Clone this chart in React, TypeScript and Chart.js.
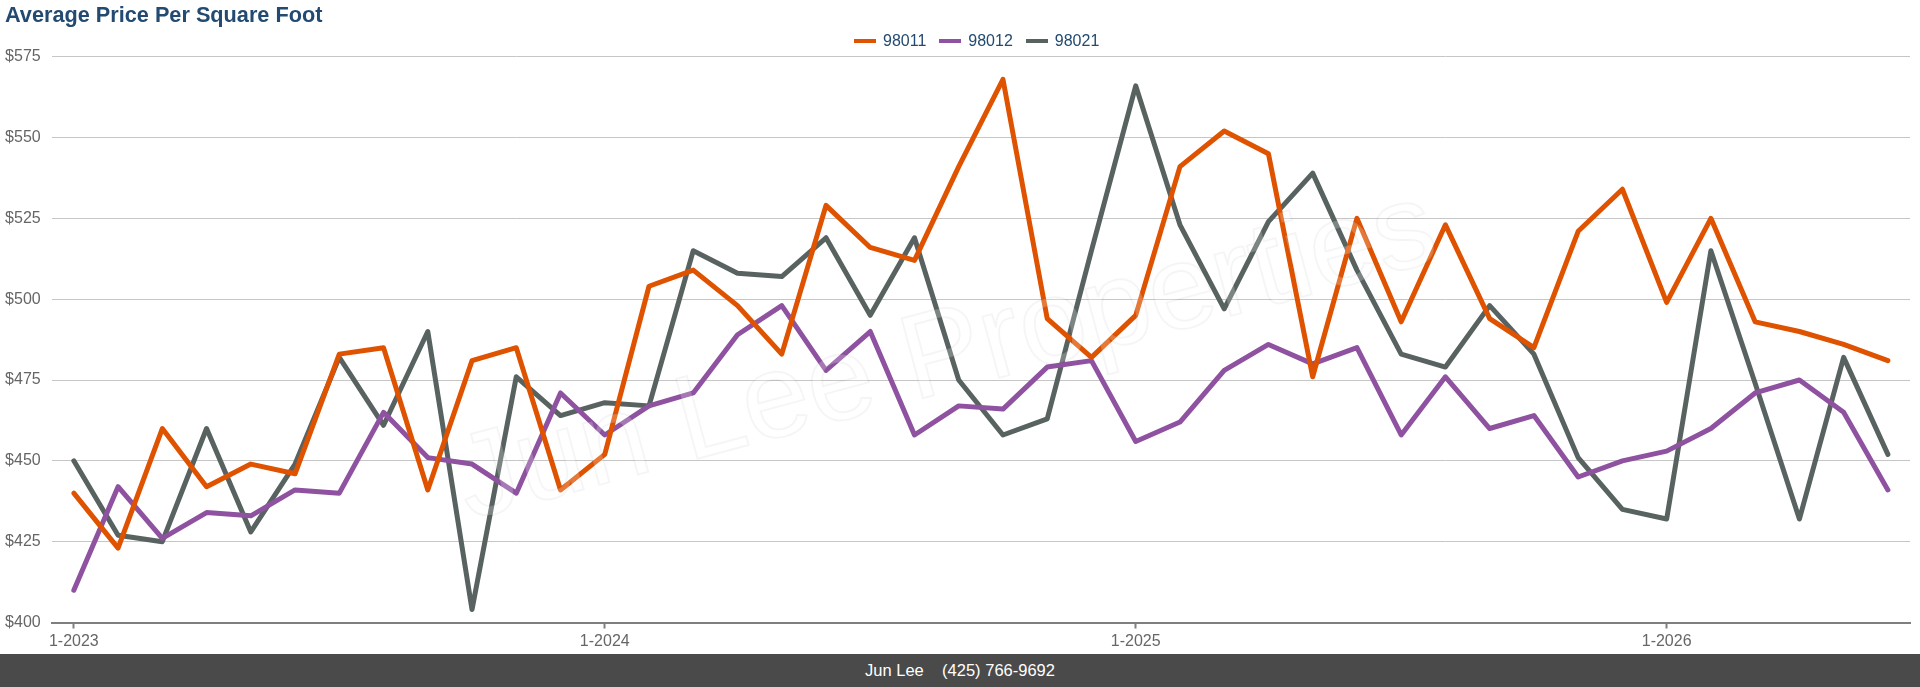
import React, { useEffect, useRef } from "react";
import { Chart, registerables } from "chart.js";

Chart.register(...registerables);

// ---------- data ----------
const months: string[] = [
  "1-2023", "2-2023", "3-2023", "4-2023", "5-2023", "6-2023", "7-2023", "8-2023", "9-2023", "10-2023", "11-2023", "12-2023",
  "1-2024", "2-2024", "3-2024", "4-2024", "5-2024", "6-2024", "7-2024", "8-2024", "9-2024", "10-2024", "11-2024", "12-2024",
  "1-2025", "2-2025", "3-2025", "4-2025", "5-2025", "6-2025", "7-2025", "8-2025", "9-2025", "10-2025", "11-2025", "12-2025",
  "1-2026", "2-2026", "3-2026", "4-2026", "5-2026", "6-2026",
];

const seriesNames: string[] = ["98011", "98012", "98021"];

const values98011: number[] = [
  440, 423, 460, 442, 449, 446, 483, 485, 441, 481, 485, 441,
  452, 504, 509, 498, 483, 529, 516, 512, 541, 568, 494, 482,
  495, 541, 552, 545, 476, 525, 493, 523, 494, 485, 521, 534,
  499, 525, 493, 490, 486, 481,
];

const values98012: number[] = [
  410, 442, 426, 434, 433, 441, 440, 465, 451, 449, 440, 471,
  458, 467, 471, 489, 498, 478, 490, 458, 467, 466, 479, 481,
  456, 462, 478, 486, 480, 485, 458, 476, 460, 464, 445, 450,
  453, 460, 471, 475, 465, 441,
];

const values98021: number[] = [
  450, 427, 425, 460, 428, 449, 482, 461, 490, 404, 476, 464,
  468, 467, 515, 508, 507, 519, 495, 519, 475, 458, 463, 515,
  566, 523, 497, 524, 539, 509, 483, 479, 498, 483, 451, 435,
  432, 515, 474, 432, 482, 452,
];

const yMin = 400;
const yMax = 575;
const yStep = 25;

const titleText = "Average Price Per Square Foot";
const footerName = "Jun Lee";
const footerPhone = "(425) 766-9692";
const watermarkText = "Jun Lee Properties";

// ---------- styles ----------
const FONT = "'Liberation Sans', Arial, Helvetica, sans-serif";
const seriesColors = ["#df5200", "#8e52a0", "#586361"];
const NAVY = "#234a70";
// target plot-area box (pixels in the 1920x687 page)
const PLOT_BOX = { left: 51.7, right: 1910, top: 56.7, bottom: 622.5 };

const watermarkPlugin = {
  id: "watermark",
  afterDatasetsDraw(chart: any) {
    const { ctx, chartArea } = chart;
    const cx = (chartArea.left + chartArea.right) / 2 - 34;
    const cy = (chartArea.top + chartArea.bottom) / 2 + 18;
    ctx.save();
    ctx.translate(cx, cy);
    ctx.rotate((-15 * Math.PI) / 180);
    ctx.font = `120px ${FONT}`;
    ctx.textAlign = "center";
    ctx.textBaseline = "middle";
    ctx.fillStyle = "rgba(255,255,255,0.22)";
    ctx.fillText(watermarkText, 0, 0);
    ctx.strokeStyle = "rgba(0,0,0,0.04)";
    ctx.lineWidth = 2;
    ctx.strokeText(watermarkText, 0, 0);
    ctx.restore();
  },
};

function ChartCanvas() {
  const ref = useRef<HTMLCanvasElement | null>(null);

  useEffect(() => {
    if (!ref.current) return;
    const allValues = [values98011, values98012, values98021];
    const padding = { top: 56.7, left: 5, right: 10, bottom: 64 };
    const chart = new Chart(ref.current, {
      type: "line",
      data: {
        labels: months,
        datasets: seriesNames.map((name, i) => ({
          label: name,
          data: allValues[i],
          borderColor: seriesColors[i],
          backgroundColor: seriesColors[i],
          borderWidth: 5,
          borderCapStyle: "round" as const,
          borderJoinStyle: "round" as const,
          pointRadius: 0,
          pointHoverRadius: 0,
          tension: 0,
          fill: false,
        })),
      },
      options: {
        animation: false,
        responsive: false,
        devicePixelRatio: 1,
        events: [],
        layout: { padding },
        plugins: {
          legend: { display: false },
          title: { display: false },
          tooltip: { enabled: false },
        },
        scales: {
          x: {
            type: "category",
            offset: true,
            grid: {
              display: true,
              drawOnChartArea: false,
              drawTicks: true,
              tickLength: 6,
              tickWidth: 2,
              tickColor: (ctx: any) => (ctx.index % 12 === 0 ? "#7f7f7f" : "rgba(0,0,0,0)"),
            },
            border: { display: true, color: "#7f7f7f", width: 2 },
            ticks: {
              autoSkip: false,
              maxRotation: 0,
              minRotation: 0,
              padding: 3,
              color: "#666666",
              font: { family: FONT, size: 16 },
              callback: (_v: any, index: number) => (index % 12 === 0 ? months[index] : ""),
            },
          },
          y: {
            min: yMin,
            max: yMax,
            grid: {
              drawTicks: false,
              lineWidth: 1,
              color: (ctx: any) => (ctx.tick && ctx.tick.value === yMin ? "rgba(0,0,0,0)" : "#c6c6c6"),
            },
            border: { display: false },
            ticks: {
              stepSize: yStep,
              padding: 11,
              color: "#666666",
              font: { family: FONT, size: 16 },
              callback: (v: any) => `$${v}`,
            },
          },
        },
      },
      plugins: [watermarkPlugin],
    });

    // calibrate layout padding so the plot area lands on the intended box
    for (let k = 0; k < 3; k++) {
      const a = chart.chartArea;
      padding.left += PLOT_BOX.left - a.left;
      padding.top += PLOT_BOX.top - a.top;
      padding.right += a.right - PLOT_BOX.right;
      padding.bottom += a.bottom - PLOT_BOX.bottom;
      (chart.options as any).layout.padding = { ...padding };
      chart.update();
    }

    return () => chart.destroy();
  }, []);

  return <canvas ref={ref} width={1920} height={687} style={{ display: "block", width: 1920, height: 687 }} />;
}

export default function App() {
  useEffect(() => {
    document.body.style.margin = "0";
    document.body.style.background = "#ffffff";
  }, []);

  return (
    <div
      style={{
        position: "relative",
        width: 1920,
        height: 687,
        overflow: "hidden",
        background: "#ffffff",
        fontFamily: FONT,
      }}
    >
      <ChartCanvas />
      <div
        style={{
          position: "absolute",
          left: 5,
          top: 2,
          fontSize: 21.7,
          lineHeight: "26px",
          fontWeight: 700,
          color: NAVY,
          whiteSpace: "nowrap",
        }}
      >
        {titleText}
      </div>
      <div
        style={{
          position: "absolute",
          left: 854,
          top: 31,
          height: 20,
          display: "flex",
          alignItems: "center",
          gap: 13,
        }}
      >
        {seriesNames.map((name, i) => (
          <div key={name} style={{ display: "flex", alignItems: "center" }}>
            <span
              style={{
                display: "inline-block",
                width: 22,
                height: 4,
                background: seriesColors[i],
                marginRight: 7,
              }}
            />
            <span style={{ fontSize: 16, lineHeight: "20px", color: NAVY }}>{name}</span>
          </div>
        ))}
      </div>
      <div
        style={{
          position: "absolute",
          left: 0,
          top: 654,
          width: 1920,
          height: 33,
          background: "#4a4a4a",
          color: "#ffffff",
          fontSize: 16.5,
          lineHeight: "33px",
          textAlign: "center",
          whiteSpace: "pre",
        }}
      >
        {footerName + "    " + footerPhone}
      </div>
    </div>
  );
}
